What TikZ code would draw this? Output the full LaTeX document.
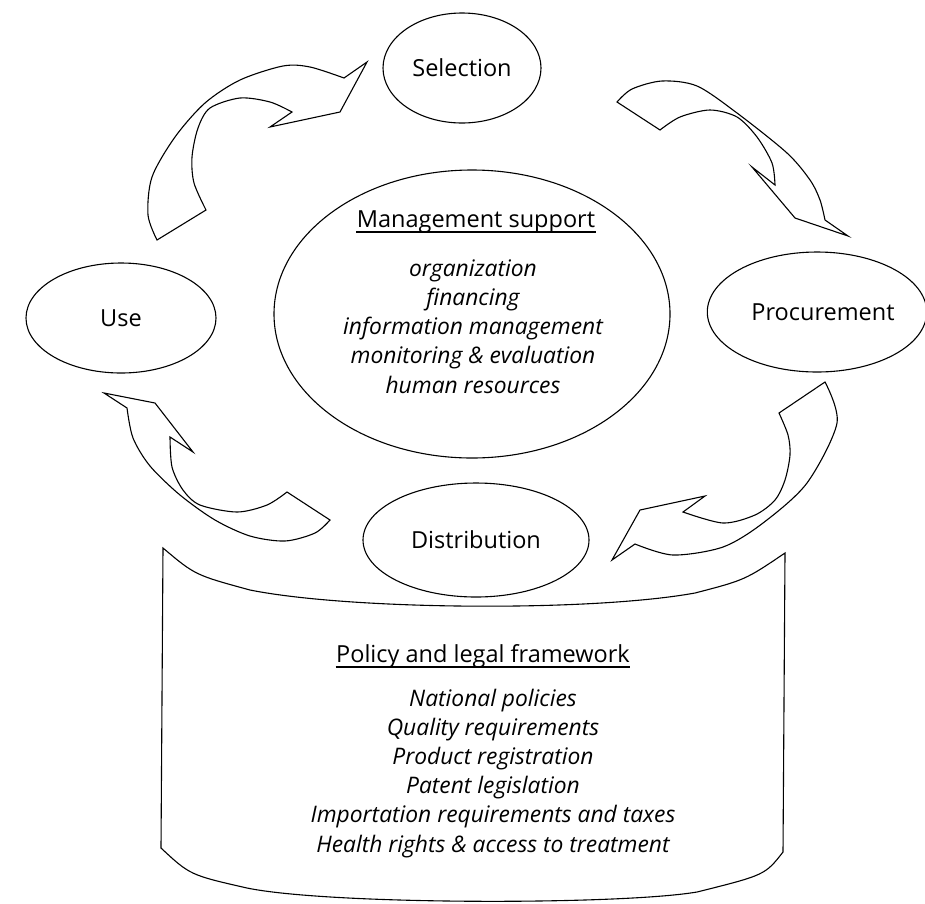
\documentclass[tikz,border=0pt]{standalone}
\usepackage{fontspec}
\setmainfont{Open Sans}
\usepackage{tikz}
\usetikzlibrary{shapes,positioning}

\begin{document}
\begin{tikzpicture}[x=1pt,y=-1pt,line width=1.1pt,line join=miter,
    stage/.style={draw,ellipse,inner sep=0pt,font=\fontsize{23.5}{28}\selectfont},
    heading/.style={inner sep=0pt,anchor=base,font=\fontsize{23.5}{28}\selectfont},
    items/.style={inner sep=0pt,align=center,anchor=base,font=\fontsize{22.8}{29.2}\selectfont\itshape}]
  \useasboundingbox (0,0) rectangle (925,903);

  \node[stage,minimum width=158pt,minimum height=110pt] (sel) at (462,68) {Selection};
  \node[stage,minimum width=190pt,minimum height=110pt] (use) at (121,318) {Use};
  \node[stage,minimum width=210pt,minimum height=120pt] (proc) at (817,312) {\hspace*{12pt}Procurement};
  \node[stage,minimum width=226pt,minimum height=114pt] (dist) at (476,540) {Distribution};
  \node[draw,ellipse,minimum width=396pt,minimum height=288pt] (mgmt) at (472,314) {};

  \node[heading] (mtitle) at (476,227) {Management support};
  \draw[line width=1.3pt] ([yshift=-5pt]mtitle.base west) -- ([yshift=-5pt]mtitle.base east);
  \node[items] (mlist) at (473,393) {organization\\financing\\information management\\monitoring \& evaluation\\human resources};

  % curved block arrows
  \draw (157,240) -- (206,210) -- plot[smooth] coordinates {(206,210) (194,183) (192,157) (198,128) (210,108) (240,98) (270,102) (292,112)}
    -- (270,127) -- (340,112) -- (367,62) -- (344,78)
    -- plot[smooth] coordinates {(344,78) (310,67) (283,66) (240,80) (205,103) (175,137) (152,177) (148,215) (157,240)} -- cycle;
  \draw (660,130) -- (617,102) -- plot[smooth] coordinates {(617,102) (632,89) (662,81) (697,86) (737,113) (787,153) (810,180) (820,200) (825,220)}
    -- (848,236) -- (795,218) -- (752,167) -- (775,185)
    -- plot[smooth] coordinates {(775,185) (772,163) (757,137) (737,117) (710,110) (680,117) (660,130)} -- cycle;
  \draw (825,382) -- (779,413) -- plot[smooth] coordinates {(779,413) (788,435) (790,455) (785,480) (775,500) (755,515) (723,523) (683,512)}
    -- (705,496) -- (640,510) -- (612,560) -- (635,544)
    -- plot[smooth] coordinates {(635,544) (673,555) (723,547) (763,523) (807,483) (837,423) (825,382)} -- cycle;
  \draw (104,393) -- (155,403) -- (193,452) -- (170,437)
    -- plot[smooth] coordinates {(170,437) (172,467) (183,490) (200,505) (237,512) (267,505) (287,492)}
    -- (330,520) -- plot[smooth] coordinates {(330,520) (315,533) (285,541) (250,536) (215,520) (180,495) (150,466) (133,438) (127,408)} -- cycle;

  % scroll
  \draw (163,548) .. controls (195,575) .. (250,590) .. controls (350,610) and (590,612) .. (695,593)
    .. controls (745,580) .. (785,553) -- (783,852) .. controls (765,875) .. (697,892)
    .. controls (620,905) and (330,905) .. (247,888) .. controls (190,875) .. (161,848) -- cycle;
  \node[heading] (ptitle) at (483,662) {Policy and legal framework};
  \draw[line width=1.3pt] ([yshift=-5pt]ptitle.base west) -- ([yshift=-5pt]ptitle.base east);
  \node[items] (plist) at (493,852) {National policies\\Quality requirements\\Product registration\\Patent legislation\\Importation requirements and taxes\\Health rights \& access to treatment};
\end{tikzpicture}
\end{document}
